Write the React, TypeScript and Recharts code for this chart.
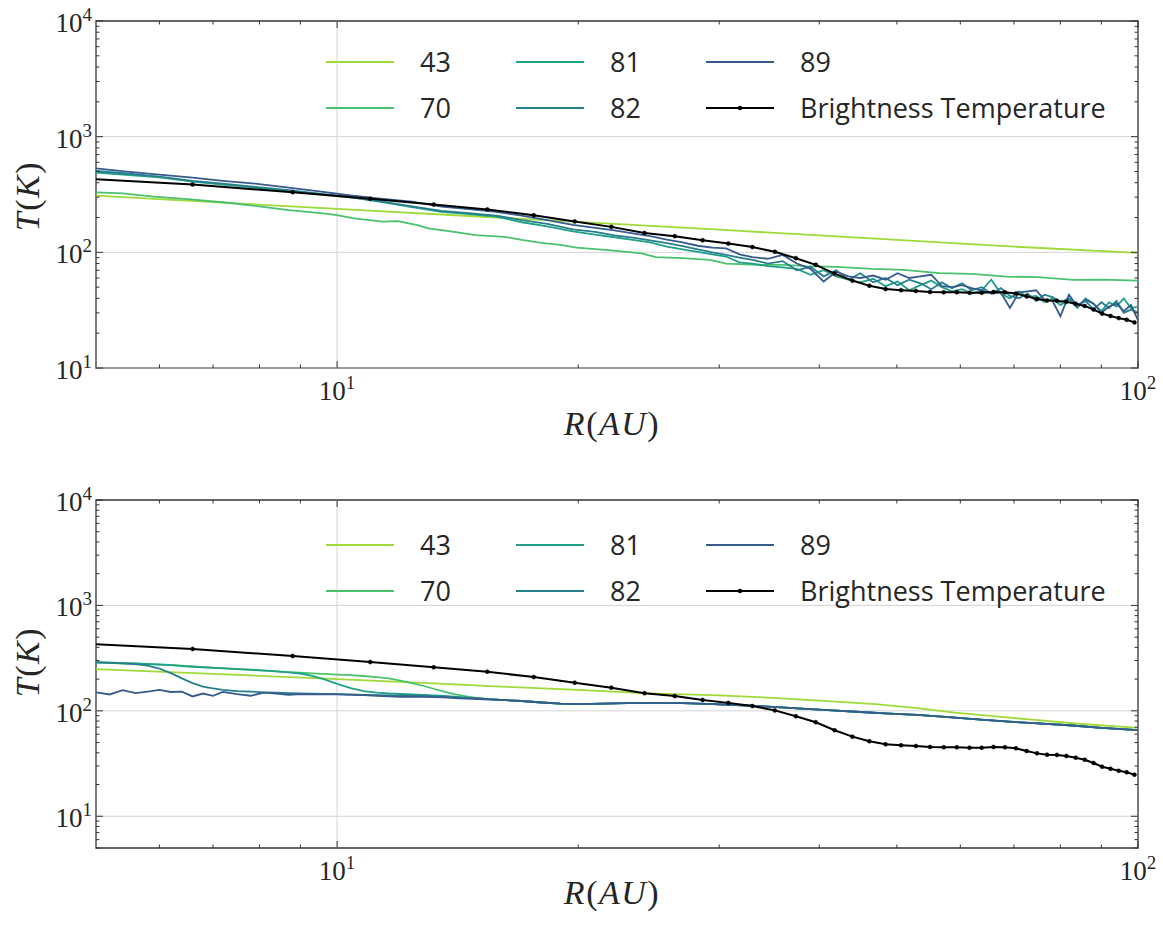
import React from 'react';
import { LineChart, Line, XAxis, YAxis, ReferenceLine, ReferenceArea } from 'recharts';

// brightness temperature, sampled every 2.2 AU (same in both panels)
const rBT = [4.4, 6.6, 8.8, 11, 13.2, 15.4, 17.6, 19.8, 22, 24.2, 26.4, 28.6, 30.8, 33, 35.2, 37.4, 39.6, 41.8, 44, 46.2,
  48.4, 50.6, 52.8, 55, 57.2, 59.4, 61.6, 63.8, 66, 68.2, 70.4, 72.6, 74.8, 77, 79.2, 81.4, 83.6, 85.8, 88, 90.2,
  92.4, 94.6, 96.8, 99];
const tBT = [448, 386, 331, 290, 259, 235, 209, 185, 166, 147, 138, 127, 119, 111, 101, 89, 78, 65.5, 56.9, 51.4,
  48.1, 47.1, 46.4, 45.4, 45.1, 45.1, 44.7, 44.7, 45.4, 45.1, 44.1, 41.6, 39.5, 38.4, 38.2, 37.3, 35.9, 34.4, 32.0, 29.5,
  28.2, 27.0, 26.1, 24.8];

// top panel
const rTop43 = [5, 7, 10, 15, 20, 30, 40, 50, 70, 100];
const t43Top = [309, 272, 238, 204, 183, 157, 140, 128, 112, 99];

const rTop70 = [5, 5.4, 5.9, 6.5, 7.2, 7.9, 8.7, 9.6, 10, 10.5, 11.4, 11.9, 12.6, 13, 14, 14.9, 16.2, 17, 18.1, 19,
  19.9, 22, 24, 25, 27, 29.2, 30.6, 33.6, 36, 38.5, 42, 46.6, 51, 56.5, 62, 68.5, 75, 83, 90, 100];
const t70Top = [330, 324, 303, 288, 271, 252, 232, 217, 210, 197, 184, 186, 172, 161, 150, 141, 136, 128, 120, 116,
  110, 104, 98, 91, 89, 86, 80, 78, 78, 76, 75, 72, 70.5, 66, 65, 61.7, 61, 57.7, 58, 56.9];

const rTopModel = [5, 5.5, 6, 6.6, 7.2, 7.9, 8.7, 9.5, 10.4, 11.4,
  12.4, 13.5, 14.6, 15.8, 17, 18.3, 19.7, 21, 22.2, 23.4,
  24.6, 25.8, 27, 28.2, 29.4, 30.6, 31.8, 33, 34.5, 36,
  37.5, 39, 40.5, 42, 43.5, 45, 46.7, 48.4, 50.1, 51.8,
  53.5, 55.2, 56.9, 58.6, 60.3, 62, 63.8, 65.6, 67.4, 69.2,
  71, 72.8, 74.6, 76.4, 78.2, 80, 82, 84, 86, 88,
  90, 92, 94, 96, 98, 100];
const t81Top = [490, 466, 445, 408, 385, 362, 340, 318, 298, 272,
  246, 224, 214, 204, 182, 168, 152, 142, 135, 128,
  122, 112, 106, 101, 96, 92, 82, 80, 76, 74,
  72, 64, 70, 62, 58, 55, 59, 51, 56, 47,
  52, 57, 50, 46, 48, 44, 47, 58, 44, 40,
  46, 41, 42, 37, 40, 35, 39, 33, 40, 36,
  31, 37, 34, 40, 33, 34];
const t82Top = [505, 478, 452, 415, 392, 368, 345, 322, 300, 275,
  250, 228, 218, 208, 190, 176, 158, 150, 140, 134,
  127, 120, 113, 106, 100, 95, 90, 86, 80, 84,
  70, 75, 62, 70, 58, 66, 55, 60, 52, 58,
  54, 48, 55, 49, 54, 47, 50, 44, 49, 42,
  40, 44, 38, 43, 41, 37, 40, 35, 38, 32,
  37, 33, 38, 30, 32, 30];
const t89Top = [532, 497, 470, 442, 415, 392, 362, 336, 310, 290,
  274, 248, 236, 224, 208, 190, 173, 163, 155, 146,
  138, 129, 122, 114, 110, 108, 96, 91, 88, 95,
  80, 72, 56, 68, 62, 60, 63, 58, 66, 60,
  62, 64, 51, 50, 52, 49, 47, 44, 45, 33,
  45, 46, 47, 39, 38, 28, 43, 34, 39, 36,
  30, 34, 36, 31, 35, 26];

// bottom panel
const rBot43 = [5, 7, 10, 13, 16, 20, 24, 30, 35, 40, 47, 53, 59, 67, 75, 85, 100];
const t43Bot = [249, 224, 200, 183, 170, 158, 147, 140, 133, 125, 116, 106, 96, 88, 81.5, 75, 69];

const rBotHead = [5, 5.2, 5.4, 5.6, 5.8, 6, 6.2, 6.4, 6.6, 6.8, 7, 7.2, 7.5, 7.8, 8.1, 8.4, 8.7, 9, 9.3, 9.6,
  10, 10.4, 10.8, 11.2, 11.6, 12, 12.4, 12.8, 13.2, 13.6, 14, 14.5, 15, 15.5, 16];
const rBotTail = [17, 18, 19, 20, 21.5, 23, 25, 27, 29.5, 32, 35, 38, 41.5, 45, 49, 53, 58, 63, 69, 75, 82, 90, 100];
const tBotTail = [124, 120, 117, 116, 117, 118.5, 119, 118.5, 116, 113, 109, 105, 101, 97.5, 94, 91.5, 87, 83, 79, 76, 73, 69, 65.5];
const t70BotHead = [289, 287, 285, 282, 279, 276, 273, 268, 264, 260, 257, 254, 250, 246, 242, 237, 233, 230, 227, 224,
  221, 218, 214, 209, 203, 193, 183, 173, 162, 152, 144, 137, 132, 129, 127];
const t81BotHead = [288, 286, 284, 281, 278, 275, 272, 266, 262, 259, 256, 253, 249, 245, 241, 237, 232, 226, 215, 201,
  180, 164, 154, 149, 146, 144.5, 143, 141.5, 140, 138.5, 136, 133.5, 131, 129, 127];
const t82BotHead = [288, 285, 281, 277, 268, 252, 228, 203, 183, 170, 163, 158, 154, 152, 150, 148.5, 147.5, 146.5, 145.5, 144.5,
  144, 143, 142, 141, 140, 139.5, 139, 138.5, 137.5, 136.5, 135, 133, 131, 129, 127];
const t89BotHead = [150, 143, 157, 147, 152, 158, 151, 152, 137, 146, 139, 151, 144, 139, 149, 146, 142, 144, 143, 144,
  143, 142, 141, 139, 137, 136, 136, 136, 135, 134, 132, 131, 129.5, 128, 127];

const legendNames = ['43', '70', '81', '82', '89', 'Brightness Temperature'];
const colors = ['#a0da39', '#4ac16d', '#1fa187', '#277f8e', '#365c8d', '#000000'];

const xMajor = [10, 100];
const xMinor = [6, 7, 8, 9, 20, 30, 40, 50, 60, 70, 80, 90];
const yMajor = [10, 100, 1000, 10000];
const yMinor = [20, 30, 40, 50, 60, 70, 80, 90, 200, 300, 400, 500, 600, 700, 800, 900,
  2000, 3000, 4000, 5000, 6000, 7000, 8000, 9000];
const yMinorLow = [5, 6, 7, 8, 9];

const INK = '#262626';
const SPINE = '#333333';
const GRID = '#d4d4d4';
const W = 1163;
const PLOT_LEFT = 96;
const PLOT_RIGHT = 25;
const PLOT_W = W - PLOT_LEFT - PLOT_RIGHT;
const SERIF = '"Liberation Serif", "DejaVu Serif", serif';

const pts = (rs: number[], ts: number[]) => rs.map((r, i) => ({ r, t: ts[i] }));
const isMajor = (v: number) => Math.abs(Math.log10(v) - Math.round(Math.log10(v))) < 1e-6;

const makeXTick = (plotH: number) => (props: any) => {
  const { x, y, payload } = props;
  const v = payload.value;
  const major = isMajor(v);
  const len = major ? 7 : 3.5;
  return (
    <g>
      <line x1={x} x2={x} y1={y} y2={y - len} stroke={SPINE} strokeWidth={1} />
      <line x1={x} x2={x} y1={y - plotH} y2={y - plotH + len} stroke={SPINE} strokeWidth={1} />
      {major && (
        <text x={x} y={y + 32} textAnchor="middle" fill={INK} fontFamily={SERIF} fontSize={27}>
          10<tspan dy={-11} fontSize={19}>{Math.round(Math.log10(v))}</tspan>
        </text>
      )}
    </g>
  );
};

const makeYTick = (plotW: number) => (props: any) => {
  const { x, y, payload } = props;
  const v = payload.value;
  const major = isMajor(v);
  const len = major ? 7 : 3.5;
  return (
    <g>
      <line x1={x} x2={x + len} y1={y} y2={y} stroke={SPINE} strokeWidth={1} />
      <line x1={x + plotW} x2={x + plotW - len} y1={y} y2={y} stroke={SPINE} strokeWidth={1} />
      {major && (
        <text x={x - 4} y={y + 11} textAnchor="end" fill={INK} fontFamily={SERIF} fontSize={27}>
          10<tspan dy={-11} fontSize={19}>{Math.round(Math.log10(v))}</tspan>
        </text>
      )}
    </g>
  );
};

function Legend({ top }: { top: number }) {
  return (
    <>
      {legendNames.map((name, i) => {
        const col = Math.floor(i / 2);
        const row = i % 2;
        const isBT = i === 5;
        return (
          <div key={name} style={{ position: 'absolute', left: 326 + col * 190, top: top + row * 46 - 20,
            height: 40, display: 'flex', alignItems: 'center', whiteSpace: 'nowrap' }}>
            <svg width={68} height={10} style={{ display: 'block' }}>
              <line x1={0} x2={68} y1={5} y2={5} stroke={colors[i]} strokeWidth={2} />
              {isBT && <circle cx={34} cy={5} r={2.2} fill="#000" />}
            </svg>
            <span style={{ marginLeft: 26, fontFamily: '"Open Sans", sans-serif', fontSize: 27, color: INK, lineHeight: '40px' }}>
              {name}
            </span>
          </div>
        );
      })}
    </>
  );
}

function AxisTitles({ xTitleTop, yTitleTop }: { xTitleTop: number; yTitleTop: number }) {
  const st: React.CSSProperties = { position: 'absolute', fontFamily: SERIF, fontSize: 34, color: INK, whiteSpace: 'nowrap', letterSpacing: 1.5 };
  return (
    <>
      <div style={{ ...st, left: 612, top: xTitleTop, transform: 'translate(-50%, -50%)' }}>
        <i>R</i>(<i>AU</i>)
      </div>
      <div style={{ ...st, left: 28, top: yTitleTop, transform: 'translate(-50%, -50%) rotate(-90deg)' }}>
        <i>T</i>(<i>K</i>)
      </div>
    </>
  );
}

function Panel(props: {
  top: number; height: number; marginTop: number; xAxisHeight: number; yMin: number;
  yTicks: number[]; series: { data: { r: number; t: number }[]; color: string }[];
  legendTop: number; xTitleTop: number; yTitleTop: number;
}) {
  const { top, height, marginTop, xAxisHeight, yMin, yTicks, series } = props;
  const plotH = height - marginTop - xAxisHeight;
  return (
    <div style={{ position: 'absolute', left: 0, top, width: W, height }}>
      <LineChart width={W} height={height} margin={{ top: marginTop, right: PLOT_RIGHT, bottom: 0, left: 0 }}>
        <XAxis dataKey="r" type="number" scale="log" domain={[5, 100]} allowDataOverflow
          ticks={[...xMinor, ...xMajor].sort((a, b) => a - b)} interval={0} height={xAxisHeight}
          axisLine={false} tickLine={false} tickSize={0} tickMargin={0} tick={makeXTick(plotH)} />
        <YAxis type="number" scale="log" domain={[yMin, 10000]} allowDataOverflow
          ticks={yTicks} interval={0} width={PLOT_LEFT}
          axisLine={false} tickLine={false} tickSize={0} tickMargin={0} tick={makeYTick(PLOT_W)} />
        {[10, 100, 1000].map((v) => (
          <ReferenceLine key={'h' + v} y={v} stroke={GRID} strokeWidth={1} />
        ))}
        <ReferenceLine x={10} stroke={GRID} strokeWidth={1} />
        {series.map((s, i) => (
          <Line key={i} data={s.data} dataKey="t" stroke={s.color} strokeWidth={1.8} dot={false}
            isAnimationActive={false} type="linear" />
        ))}
        <Line data={pts(rBT, tBT)} dataKey="t" stroke="#000" strokeWidth={2}
          dot={{ r: 2, fill: '#000', stroke: '#000', strokeWidth: 0.5 }} isAnimationActive={false} type="linear" />
        <ReferenceArea x1={5} x2={100} y1={yMin} y2={10000} fill="none" stroke={SPINE} strokeWidth={1.3} fillOpacity={0} />
      </LineChart>
      <Legend top={props.legendTop} />
      <AxisTitles xTitleTop={props.xTitleTop} yTitleTop={props.yTitleTop} />
    </div>
  );
}

export default function App() {
  const topSeries = [
    { data: pts(rTop43, t43Top), color: colors[0] },
    { data: pts(rTop70, t70Top), color: colors[1] },
    { data: pts(rTopModel, t81Top), color: colors[2] },
    { data: pts(rTopModel, t82Top), color: colors[3] },
    { data: pts(rTopModel, t89Top), color: colors[4] },
  ];
  const rBot = [...rBotHead, ...rBotTail];
  const bottomSeries = [
    { data: pts(rBot43, t43Bot), color: colors[0] },
    { data: pts(rBot, [...t70BotHead, ...tBotTail]), color: colors[1] },
    { data: pts(rBot, [...t81BotHead, ...tBotTail]), color: colors[2] },
    { data: pts(rBot, [...t82BotHead, ...tBotTail]), color: colors[3] },
    { data: pts(rBot, [...t89BotHead, ...tBotTail]), color: colors[4] },
  ];
  return (
    <div style={{ position: 'absolute', left: 0, top: 0, width: W, height: 927, background: '#fff', overflow: 'hidden' }}>
      <Panel top={0} height={460} marginTop={21} xAxisHeight={92} yMin={10}
        yTicks={[...yMinor, ...yMajor].sort((a, b) => a - b)} series={topSeries}
        legendTop={62} xTitleTop={424} yTitleTop={196} />
      <Panel top={463} height={464} marginTop={37} xAxisHeight={79} yMin={5}
        yTicks={[...yMinorLow, ...yMinor, ...yMajor].sort((a, b) => a - b)} series={bottomSeries}
        legendTop={82} xTitleTop={430} yTitleTop={199} />
    </div>
  );
}
